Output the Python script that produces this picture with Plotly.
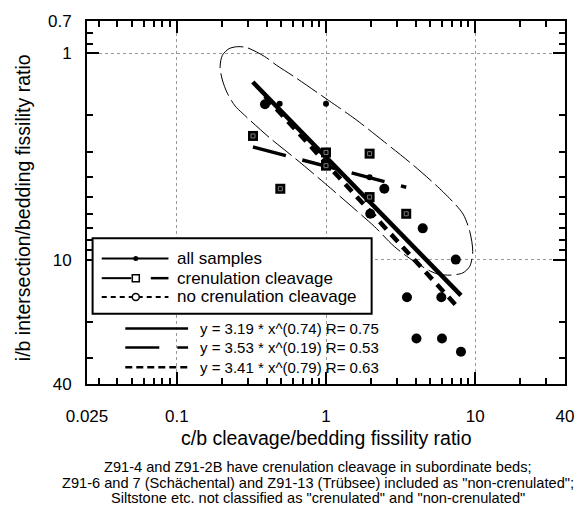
import numpy as np
import plotly.graph_objects as go

# ---- data -------------------------------------------------------------
# samples without crenulation cleavage (filled circles)
noncren_cb = [0.39, 2.46, 1.98, 4.45, 7.41, 3.49, 5.93, 4.04, 5.99, 8.03]
noncren_ib = [1.77, 4.54, 6.0, 7.06, 10.0, 15.2, 15.2, 24.1, 24.1, 27.9]

# samples with crenulation cleavage (squares)
cren_cb = [0.324, 1.0, 1.0, 0.494, 1.96, 1.96, 3.45]
cren_ib = [2.52, 3.03, 3.51, 4.54, 3.07, 4.98, 6.0]

# unclassified samples (small dots)
other_cb = [0.489, 1.0, 1.96]
other_ib = [1.76, 1.76, 3.99]

# power-law fits y = a * x^b with their x extent
fit_names = ["all samples", "crenulation cleavage", "no crenulation cleavage"]
fit_a = [3.19, 3.53, 3.41]
fit_b = [0.74, 0.19, 0.79]
fit_r = [0.75, 0.53, 0.63]
fit_xmin = [0.323, 0.324, 0.39]
fit_xmax = [8.03, 3.45, 7.6]

# envelope drawn around the data cloud
env_cb = [0.195, 0.202, 0.224, 0.254, 0.295, 0.388, 0.465, 0.611, 1.039, 1.564,
          2.463, 3.880, 6.113, 8.276, 9.202, 9.630, 9.202, 8.276, 6.797, 5.666,
          5.020, 3.880, 2.866, 2.117, 1.564, 0.992, 0.630, 0.418, 0.274, 0.246,
          0.218, 0.202, 0.195]
env_ib = [1.166, 1.026, 0.953, 0.932, 0.942, 1.040, 1.145, 1.301, 1.695, 2.084,
          2.694, 3.510, 4.711, 6.002, 7.320, 9.126, 10.77, 11.59, 11.89, 11.76,
          11.38, 10.19, 8.636, 6.928, 5.712, 4.298, 3.264, 2.569, 1.950, 1.806,
          1.565, 1.351, 1.166]

x_ticks = [0.025, 0.1, 1, 10, 40]
x_ticktext = ["0.025", "0.1", "1", "10", "40"]
y_ticks = [0.7, 1, 10, 40]
y_ticktext = ["0.7", "1", "10", "40"]
x_minor = [0.03, 0.04, 0.05, 0.06, 0.07, 0.08, 0.09,
           0.2, 0.3, 0.4, 0.5, 0.6, 0.7, 0.8, 0.9,
           2, 3, 4, 5, 6, 7, 8, 9, 20, 30]
y_minor = [0.8, 0.9, 2, 3, 4, 5, 6, 7, 8, 9, 20, 30]

caption = [
    "Z91-4 and Z91-2B have crenulation cleavage in subordinate beds;",
    'Z91-6 and 7 (Schächental) and Z91-13 (Trübsee) included as "non-crenulated";',
    'Siltstone etc. not classified as "crenulated" and "non-crenulated"',
]

# ---- figure geometry (pixels) -----------------------------------------
W, H = 586, 507
L, R, T, B = 87, 574, 17, 384
FONT = "Liberation Sans, Arial, Helvetica, sans-serif"


def px(x):
    return (x - L) / (R - L)


def py(y):
    return (B - y) / (B - T)


fig = go.Figure()

# envelope
fig.add_trace(go.Scatter(x=env_cb, y=env_ib, mode="lines",
                         line=dict(color="black", width=1, dash="24px,5px", shape="spline", smoothing=0.8),
                         hoverinfo="skip"))

# fitted lines
fit_styles = [dict(width=4.5, dash="solid"),
              dict(width=3.5, dash="34px,17px"),
              dict(width=4.5, dash="10px,7px")]
for a, b, lo, hi, st in zip(fit_a, fit_b, fit_xmin, fit_xmax, fit_styles):
    xs = np.geomspace(lo, hi, 30)
    fig.add_trace(go.Scatter(x=xs, y=a * xs ** b, mode="lines",
                             line=dict(color="black", width=st["width"], dash=st["dash"])))

# points
fig.add_trace(go.Scatter(x=noncren_cb, y=noncren_ib, mode="markers",
                         marker=dict(symbol="circle", size=10, color="black")))
fig.add_trace(go.Scatter(x=cren_cb, y=cren_ib, mode="markers",
                         marker=dict(symbol="square", size=10, color="black")))
fig.add_trace(go.Scatter(x=cren_cb, y=cren_ib, mode="markers",
                         marker=dict(symbol="square-open", size=4, color="#7a7a7a",
                                     line=dict(width=1, color="#7a7a7a"))))
fig.add_trace(go.Scatter(x=other_cb, y=other_ib, mode="markers",
                         marker=dict(symbol="circle", size=6, color="black")))

# ---- legend box and key ------------------------------------------------
shapes = [dict(type="rect", xref="paper", yref="paper", x0=px(92.7), x1=px(377),
               y0=py(313), y1=py(236.7), line=dict(color="black", width=2),
               fillcolor="white", layer="above")]


def hline(x0, x1, y, width, dash="solid"):
    return dict(type="line", xref="paper", yref="paper", x0=px(x0), x1=px(x1),
                y0=py(y), y1=py(y), line=dict(color="black", width=width, dash=dash),
                layer="above")


def glyph(kind, x, y, r, fill, lw=0):
    return dict(type=kind, xref="paper", yref="paper", xsizemode="pixel", ysizemode="pixel",
                xanchor=px(x), yanchor=py(y), x0=-r, x1=r, y0=-r, y1=r,
                fillcolor=fill, line=dict(color="black", width=lw), layer="above")


key_y = [257, 277, 296]
key_mid = 136.7
shapes += [hline(102, 170, key_y[0], 2), glyph("circle", key_mid, key_y[0], 2.5, "black")]
shapes += [hline(102, 132, key_y[1], 2), hline(152, 170, key_y[1], 2.5),
           glyph("rect", key_mid, key_y[1], 3.5, "white", 1.5)]
shapes += [hline(102, 170, key_y[2], 2, "5px,4px"),
           glyph("circle", key_mid, key_y[2], 3.5, "white", 1.5)]

eq_y = [328, 347, 367]
shapes += [hline(126, 190, eq_y[0], 2.5),
           hline(126, 190, eq_y[1], 2.5, "34px,18px"),
           hline(126, 190, eq_y[2], 2.5, "7px,4px")]

annotations = []
for name, y in zip(fit_names, key_y):
    annotations.append(dict(text=name, x=px(177), y=py(y), xref="paper", yref="paper",
                            xanchor="left", yanchor="middle", showarrow=False,
                            font=dict(size=17, color="black", family=FONT)))
for a, b, r, y in zip(fit_a, fit_b, fit_r, eq_y):
    annotations.append(dict(text=f"y = {a:.2f} * x^({b:.2f}) R= {r:.2f}", x=px(200), y=py(y),
                            xref="paper", yref="paper", xanchor="left", yanchor="middle",
                            showarrow=False, font=dict(size=15, color="black", family=FONT)))

# axis titles
annotations.append(dict(text="c/b cleavage/bedding fissility ratio", x=px(331), y=py(439),
                        xref="paper", yref="paper", xanchor="center", yanchor="middle",
                        showarrow=False, font=dict(size=19.5, color="black", family=FONT)))
annotations.append(dict(text="i/b intersection/bedding fissility ratio", x=px(22), y=py(206),
                        xref="paper", yref="paper", xanchor="center", yanchor="middle",
                        textangle=-90, showarrow=False,
                        font=dict(size=19.5, color="black", family=FONT)))
for line, y in zip(caption, [468, 484, 499]):
    annotations.append(dict(text=line, x=px(322), y=py(y), xref="paper", yref="paper",
                            xanchor="center", yanchor="middle", showarrow=False,
                            font=dict(size=14.6, color="black", family=FONT)))

axis_common = dict(type="log", ticks="inside", ticklen=12, tickwidth=2, tickcolor="black",
                   showline=True, linewidth=2, linecolor="black", mirror="ticks",
                   showgrid=True, gridcolor="#999999", griddash="dot", gridwidth=1,
                   zeroline=False, tickfont=dict(size=17, color="black", family=FONT))

fig.update_layout(
    width=W, height=H,
    margin=dict(l=L, r=W - R, t=T, b=H - B),
    paper_bgcolor="white", plot_bgcolor="white",
    showlegend=False,
    font=dict(family=FONT, color="black"),
    xaxis=dict(axis_common, range=[np.log10(0.025), np.log10(40)],
               tickvals=x_ticks, ticktext=x_ticktext, ticklabelstandoff=16,
               minor=dict(tickvals=x_minor, ticks="inside", ticklen=6, tickwidth=2,
                          tickcolor="black", showgrid=False)),
    yaxis=dict(axis_common, range=[np.log10(40), np.log10(0.7)],
               tickvals=y_ticks, ticktext=y_ticktext, ticklabelstandoff=10,
               minor=dict(tickvals=y_minor, ticks="inside", ticklen=6, tickwidth=2,
                          tickcolor="black", showgrid=False)),
    shapes=shapes,
    annotations=annotations,
)

fig.write_html("out.html")
